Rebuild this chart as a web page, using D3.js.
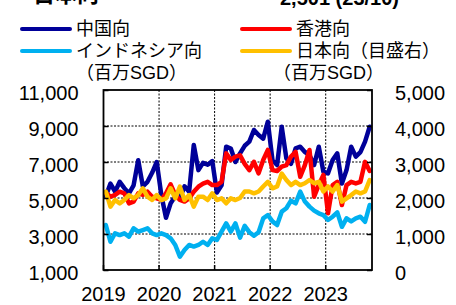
<!DOCTYPE html>
<html><head><meta charset="utf-8">
<script src="https://cdn.jsdelivr.net/npm/d3@7"></script>
<style>body{margin:0;background:#fff;overflow:hidden}</style>
</head><body><svg id="c" width="456" height="305"></svg>
<script>
const years = ["2019","2020","2021","2022","2023"];
const monthNums = ["01","02","03","04","05","06","07","08","09","10","11","12"];
const months = years.flatMap(y => monthNums.map(m => y + "-" + m)).slice(0, 58); // 2019-01 .. 2023-10
const leftTicks = [1000, 3000, 5000, 7000, 9000, 11000];
const rightTicks = [0, 1000, 2000, 3000, 4000, 5000];

const china = [5100,5800,5350,5900,5550,5250,5700,7100,5650,5900,6400,7000,
  5150,3900,4700,5100,5000,5650,5350,7950,6550,6950,6850,7050,
  5300,5700,7850,7750,7000,7480,7900,8130,8780,8500,8300,9240,
  7100,6830,8960,7200,6900,7760,7850,7560,7370,6830,7850,6460,
  6370,7110,7480,5800,6550,7850,7300,7550,8130,8960];
const hongkong = [5300,5070,5170,5350,5260,4700,4800,5260,5170,5350,5070,4980,
  4890,5260,5760,5170,4890,4800,4980,5350,5630,5800,5900,5720,
  5720,5900,7480,7110,7300,7370,6900,6550,7010,6370,7110,7670,
  6550,6500,6740,6830,7300,7560,6180,6830,7670,5070,5720,6280,
  4150,5720,5900,4610,5720,5900,5810,5900,7010,6500];
const indonesia = [3500,2570,3040,2940,3040,2850,3315,3130,3220,3315,3040,2940,
  3040,2940,2760,2390,1740,2110,2390,2300,2390,2570,2390,2760,
  2670,3130,3590,3130,3590,2800,3450,3100,2900,3100,3870,4055,
  3700,3500,4240,4430,4850,4700,5350,4800,4520,4300,4150,4050,
  3780,3960,4200,3400,3870,3700,3870,3960,3680,4610];
const japan = [2176,1760,1944,1852,1944,2083,1991,2083,2269,2037,1944,2083,
  1944,1991,2269,1991,2315,1944,2083,1760,2037,2037,1944,2130,
  1944,1991,1852,1991,1944,2000,2180,2180,2130,2180,2320,2450,
  2270,2320,2680,2500,2360,2450,2360,2410,2500,2410,2450,2180,
  2320,2180,2360,1900,1990,2080,2180,2130,2180,2501];

const seriesNames = ["中国向","香港向","インドネシア向","日本向（目盛右）"];
const seriesColors = ["#000099","#FF0000","#00B0F0","#FFC000"];

const svg = d3.select("#c");
const font = "'Liberation Sans', Arial, 'Noto Sans CJK JP', sans-serif";
const L = 103.5, R = 372, T = 90, B = 270;

const x = d3.scaleBand().domain(months).range([L, R]).padding(0);
const yL = d3.scaleLinear().domain([1000, 11000]).range([B, T]);
const yR = d3.scaleLinear().domain([0, 5000]).range([B, T]);
const cx = d => x(d) + x.bandwidth() / 2;

// title (partly cut)
svg.append("text").attr("x", 33).attr("y", 2).attr("font-family", font)
  .attr("font-size", 22).attr("font-weight", "bold").text("日本向");
svg.append("text").attr("x", 280).attr("y", 5).attr("font-family", font)
  .attr("font-size", 20).attr("font-weight", "bold").text("2,501 (23/10)");

// grid
const g = svg.append("g");
g.selectAll(".hg").data(leftTicks.filter(v => v > 1000 && v < 11000)).join("line")
  .attr("x1", L).attr("x2", R).attr("y1", d => yL(d)).attr("y2", d => yL(d))
  .attr("stroke", "#000").attr("stroke-width", 1).attr("stroke-dasharray", "2,1.5");
g.selectAll(".vg").data(years.slice(1)).join("line")
  .attr("x1", d => x(d + "-01")).attr("x2", d => x(d + "-01"))
  .attr("y1", T).attr("y2", B)
  .attr("stroke", "#000").attr("stroke-width", 1).attr("stroke-dasharray", "2,1.5");

// lines
const allSeries = [
  {v: china, s: yL}, {v: hongkong, s: yL}, {v: indonesia, s: yL}, {v: japan, s: yR}
];
allSeries.forEach((o, i) => {
  const line = d3.line().x((d, j) => cx(months[j])).y(d => o.s(d)).curve(d3.curveLinear);
  svg.append("path").datum(o.v).attr("d", line).attr("fill", "none")
    .attr("stroke", seriesColors[i]).attr("stroke-width", 4.5)
    .attr("stroke-linejoin", "round").attr("stroke-linecap", "round");
});

// frame
svg.append("rect").attr("x", L).attr("y", T).attr("width", R - L).attr("height", B - T)
  .attr("fill", "none").attr("stroke", "#000").attr("stroke-width", 1.8);

// axes
const axL = d3.axisLeft(yL).tickValues(leftTicks).tickSizeInner(-5).tickSizeOuter(0)
  .tickPadding(25).tickFormat(d3.format(","));
const aL = svg.append("g").attr("transform", `translate(${L},0)`).call(axL);
const axR = d3.axisRight(yR).tickValues(rightTicks).tickSizeInner(-5).tickSizeOuter(0)
  .tickPadding(23).tickFormat(d3.format(","));
const aR = svg.append("g").attr("transform", `translate(${R},0)`).call(axR);
const axB = d3.axisBottom(x).tickValues(years.map(y => y + "-01")).tickSizeInner(-5).tickSizeOuter(0)
  .tickPadding(17).tickFormat(d => d.slice(0, 4));
const aB = svg.append("g").attr("transform", `translate(0,${B})`).call(axB);
aB.selectAll(".tick").attr("transform", d => `translate(${x(d)},0)`);
[aL, aR, aB].forEach(a => {
  a.select(".domain").remove();
  a.selectAll(".tick line").attr("stroke", "#000").attr("stroke-width", 1.5);
  a.selectAll("text").attr("font-family", font).attr("font-size", 20).attr("fill", "#000");
});
aL.selectAll("text").attr("dy", "0.45em");
aR.selectAll("text").attr("dy", "0.45em");

// legend
const leg = [
  {i: 0, x: 22, y: 29}, {i: 1, x: 242, y: 29},
  {i: 2, x: 22, y: 51}, {i: 3, x: 242, y: 51}
];
leg.forEach(o => {
  svg.append("line").attr("x1", o.x).attr("x2", o.x + 48).attr("y1", o.y).attr("y2", o.y)
    .attr("stroke", seriesColors[o.i]).attr("stroke-width", 4).attr("stroke-linecap", "round");
  svg.append("text").attr("x", o.x + 54).attr("y", o.y).attr("dy", "0.36em")
    .attr("font-family", font).attr("font-size", 18).text(seriesNames[o.i]);
});
svg.append("text").attr("x", 76).attr("y", 73).attr("dy", "0.36em")
  .attr("font-family", font).attr("font-size", 18).text("（百万SGD）");
svg.append("text").attr("x", 273).attr("y", 73).attr("dy", "0.36em")
  .attr("font-family", font).attr("font-size", 18).text("（百万SGD）");
</script>
</body></html>
